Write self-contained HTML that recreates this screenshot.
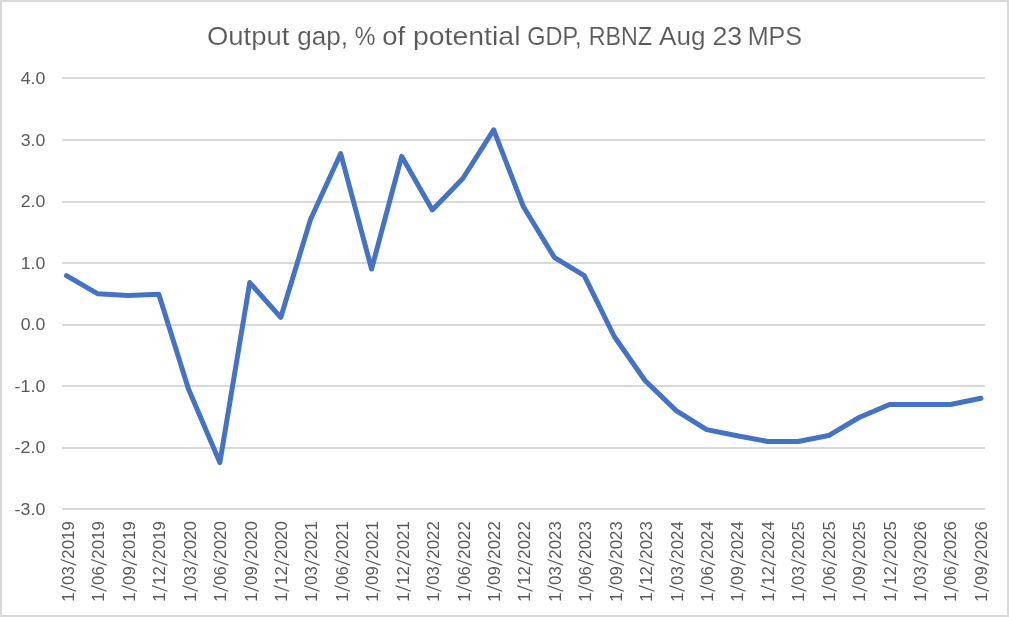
<!DOCTYPE html>
<html><head><meta charset="utf-8"><style>
html,body{margin:0;padding:0;background:#fff;}
body{width:1009px;height:617px;overflow:hidden;}
svg{display:block;font-family:"Liberation Sans",sans-serif;will-change:transform;}
</style></head><body>
<svg width="1009" height="617" viewBox="0 0 1009 617">
<rect x="1" y="1" width="1007" height="615" fill="#fff" stroke="#d9d9d9" stroke-width="2"/>
<rect x="62" y="77" width="923" height="2" fill="#d9d9d9"/><rect x="62" y="139" width="923" height="2" fill="#d9d9d9"/><rect x="62" y="201" width="923" height="2" fill="#d9d9d9"/><rect x="62" y="262" width="923" height="2" fill="#d9d9d9"/><rect x="62" y="324" width="923" height="2" fill="#d9d9d9"/><rect x="62" y="385" width="923" height="2" fill="#d9d9d9"/><rect x="62" y="447" width="923" height="2" fill="#d9d9d9"/><rect x="62" y="508" width="923" height="2" fill="#d9d9d9"/>
<g font-size="25.8" fill="#595959" stroke="#fff" stroke-width="0.15"><text x="206.97" y="45" textLength="82.45" lengthAdjust="spacingAndGlyphs">Output</text><text x="297.19" y="45" textLength="50.75" lengthAdjust="spacingAndGlyphs">gap,</text><text x="354.7" y="45" textLength="20.66" lengthAdjust="spacingAndGlyphs">%</text><text x="382.24" y="45" textLength="22.88" lengthAdjust="spacingAndGlyphs">of</text><text x="412.97" y="45" textLength="107.51" lengthAdjust="spacingAndGlyphs">potential</text><text x="527.16" y="45" textLength="54.39" lengthAdjust="spacingAndGlyphs">GDP,</text><text x="588.69" y="45" textLength="63.47" lengthAdjust="spacingAndGlyphs">RBNZ</text><text x="659.1" y="45" textLength="46.37" lengthAdjust="spacingAndGlyphs">Aug</text><text x="712.4" y="45" textLength="29.74" lengthAdjust="spacingAndGlyphs">23</text><text x="747.65" y="45" textLength="54.37" lengthAdjust="spacingAndGlyphs">MPS</text></g>
<g font-size="16.5" fill="#595959">
<text x="45.34" y="83.8" text-anchor="end" textLength="24.54" lengthAdjust="spacingAndGlyphs">4.0</text><text x="45.34" y="145.6" text-anchor="end" textLength="24.54" lengthAdjust="spacingAndGlyphs">3.0</text><text x="45.34" y="206.5" text-anchor="end" textLength="24.54" lengthAdjust="spacingAndGlyphs">2.0</text><text x="45.34" y="268.6" text-anchor="end" textLength="24.54" lengthAdjust="spacingAndGlyphs">1.0</text><text x="45.34" y="329.6" text-anchor="end" textLength="24.54" lengthAdjust="spacingAndGlyphs">0.0</text><text x="45.34" y="391.6" text-anchor="end" textLength="30.7" lengthAdjust="spacingAndGlyphs">-1.0</text><text x="45.34" y="452.5" text-anchor="end" textLength="30.7" lengthAdjust="spacingAndGlyphs">-2.0</text><text x="45.34" y="514.5" text-anchor="end" textLength="30.7" lengthAdjust="spacingAndGlyphs">-3.0</text>
</g>
<g font-size="16.8" fill="#595959" text-anchor="middle">
<g transform="translate(74.00,601.7) rotate(-90)"><text x="4.74">1</text><path d="M10.47 2.2L16.07 -13.3" stroke="#595959" stroke-width="1.2" fill="none"/><text x="21.41">0</text><text x="30.88">3</text><path d="M36.61 2.2L42.21 -13.3" stroke="#595959" stroke-width="1.2" fill="none"/><text x="47.55">2</text><text x="57.02">0</text><text x="66.48">1</text><text x="75.95">9</text></g><g transform="translate(104.43,601.7) rotate(-90)"><text x="4.74">1</text><path d="M10.47 2.2L16.07 -13.3" stroke="#595959" stroke-width="1.2" fill="none"/><text x="21.41">0</text><text x="30.88">6</text><path d="M36.61 2.2L42.21 -13.3" stroke="#595959" stroke-width="1.2" fill="none"/><text x="47.55">2</text><text x="57.02">0</text><text x="66.48">1</text><text x="75.95">9</text></g><g transform="translate(134.86,601.7) rotate(-90)"><text x="4.74">1</text><path d="M10.47 2.2L16.07 -13.3" stroke="#595959" stroke-width="1.2" fill="none"/><text x="21.41">0</text><text x="30.88">9</text><path d="M36.61 2.2L42.21 -13.3" stroke="#595959" stroke-width="1.2" fill="none"/><text x="47.55">2</text><text x="57.02">0</text><text x="66.48">1</text><text x="75.95">9</text></g><g transform="translate(165.29,601.7) rotate(-90)"><text x="4.74">1</text><path d="M10.47 2.2L16.07 -13.3" stroke="#595959" stroke-width="1.2" fill="none"/><text x="21.41">1</text><text x="30.88">2</text><path d="M36.61 2.2L42.21 -13.3" stroke="#595959" stroke-width="1.2" fill="none"/><text x="47.55">2</text><text x="57.02">0</text><text x="66.48">1</text><text x="75.95">9</text></g><g transform="translate(195.72,601.7) rotate(-90)"><text x="4.74">1</text><path d="M10.47 2.2L16.07 -13.3" stroke="#595959" stroke-width="1.2" fill="none"/><text x="21.41">0</text><text x="30.88">3</text><path d="M36.61 2.2L42.21 -13.3" stroke="#595959" stroke-width="1.2" fill="none"/><text x="47.55">2</text><text x="57.02">0</text><text x="66.48">2</text><text x="75.95">0</text></g><g transform="translate(226.15,601.7) rotate(-90)"><text x="4.74">1</text><path d="M10.47 2.2L16.07 -13.3" stroke="#595959" stroke-width="1.2" fill="none"/><text x="21.41">0</text><text x="30.88">6</text><path d="M36.61 2.2L42.21 -13.3" stroke="#595959" stroke-width="1.2" fill="none"/><text x="47.55">2</text><text x="57.02">0</text><text x="66.48">2</text><text x="75.95">0</text></g><g transform="translate(256.58,601.7) rotate(-90)"><text x="4.74">1</text><path d="M10.47 2.2L16.07 -13.3" stroke="#595959" stroke-width="1.2" fill="none"/><text x="21.41">0</text><text x="30.88">9</text><path d="M36.61 2.2L42.21 -13.3" stroke="#595959" stroke-width="1.2" fill="none"/><text x="47.55">2</text><text x="57.02">0</text><text x="66.48">2</text><text x="75.95">0</text></g><g transform="translate(287.01,601.7) rotate(-90)"><text x="4.74">1</text><path d="M10.47 2.2L16.07 -13.3" stroke="#595959" stroke-width="1.2" fill="none"/><text x="21.41">1</text><text x="30.88">2</text><path d="M36.61 2.2L42.21 -13.3" stroke="#595959" stroke-width="1.2" fill="none"/><text x="47.55">2</text><text x="57.02">0</text><text x="66.48">2</text><text x="75.95">0</text></g><g transform="translate(317.44,601.7) rotate(-90)"><text x="4.74">1</text><path d="M10.47 2.2L16.07 -13.3" stroke="#595959" stroke-width="1.2" fill="none"/><text x="21.41">0</text><text x="30.88">3</text><path d="M36.61 2.2L42.21 -13.3" stroke="#595959" stroke-width="1.2" fill="none"/><text x="47.55">2</text><text x="57.02">0</text><text x="66.48">2</text><text x="75.95">1</text></g><g transform="translate(347.87,601.7) rotate(-90)"><text x="4.74">1</text><path d="M10.47 2.2L16.07 -13.3" stroke="#595959" stroke-width="1.2" fill="none"/><text x="21.41">0</text><text x="30.88">6</text><path d="M36.61 2.2L42.21 -13.3" stroke="#595959" stroke-width="1.2" fill="none"/><text x="47.55">2</text><text x="57.02">0</text><text x="66.48">2</text><text x="75.95">1</text></g><g transform="translate(378.30,601.7) rotate(-90)"><text x="4.74">1</text><path d="M10.47 2.2L16.07 -13.3" stroke="#595959" stroke-width="1.2" fill="none"/><text x="21.41">0</text><text x="30.88">9</text><path d="M36.61 2.2L42.21 -13.3" stroke="#595959" stroke-width="1.2" fill="none"/><text x="47.55">2</text><text x="57.02">0</text><text x="66.48">2</text><text x="75.95">1</text></g><g transform="translate(408.73,601.7) rotate(-90)"><text x="4.74">1</text><path d="M10.47 2.2L16.07 -13.3" stroke="#595959" stroke-width="1.2" fill="none"/><text x="21.41">1</text><text x="30.88">2</text><path d="M36.61 2.2L42.21 -13.3" stroke="#595959" stroke-width="1.2" fill="none"/><text x="47.55">2</text><text x="57.02">0</text><text x="66.48">2</text><text x="75.95">1</text></g><g transform="translate(439.16,601.7) rotate(-90)"><text x="4.74">1</text><path d="M10.47 2.2L16.07 -13.3" stroke="#595959" stroke-width="1.2" fill="none"/><text x="21.41">0</text><text x="30.88">3</text><path d="M36.61 2.2L42.21 -13.3" stroke="#595959" stroke-width="1.2" fill="none"/><text x="47.55">2</text><text x="57.02">0</text><text x="66.48">2</text><text x="75.95">2</text></g><g transform="translate(469.59,601.7) rotate(-90)"><text x="4.74">1</text><path d="M10.47 2.2L16.07 -13.3" stroke="#595959" stroke-width="1.2" fill="none"/><text x="21.41">0</text><text x="30.88">6</text><path d="M36.61 2.2L42.21 -13.3" stroke="#595959" stroke-width="1.2" fill="none"/><text x="47.55">2</text><text x="57.02">0</text><text x="66.48">2</text><text x="75.95">2</text></g><g transform="translate(500.02,601.7) rotate(-90)"><text x="4.74">1</text><path d="M10.47 2.2L16.07 -13.3" stroke="#595959" stroke-width="1.2" fill="none"/><text x="21.41">0</text><text x="30.88">9</text><path d="M36.61 2.2L42.21 -13.3" stroke="#595959" stroke-width="1.2" fill="none"/><text x="47.55">2</text><text x="57.02">0</text><text x="66.48">2</text><text x="75.95">2</text></g><g transform="translate(530.45,601.7) rotate(-90)"><text x="4.74">1</text><path d="M10.47 2.2L16.07 -13.3" stroke="#595959" stroke-width="1.2" fill="none"/><text x="21.41">1</text><text x="30.88">2</text><path d="M36.61 2.2L42.21 -13.3" stroke="#595959" stroke-width="1.2" fill="none"/><text x="47.55">2</text><text x="57.02">0</text><text x="66.48">2</text><text x="75.95">2</text></g><g transform="translate(560.88,601.7) rotate(-90)"><text x="4.74">1</text><path d="M10.47 2.2L16.07 -13.3" stroke="#595959" stroke-width="1.2" fill="none"/><text x="21.41">0</text><text x="30.88">3</text><path d="M36.61 2.2L42.21 -13.3" stroke="#595959" stroke-width="1.2" fill="none"/><text x="47.55">2</text><text x="57.02">0</text><text x="66.48">2</text><text x="75.95">3</text></g><g transform="translate(591.31,601.7) rotate(-90)"><text x="4.74">1</text><path d="M10.47 2.2L16.07 -13.3" stroke="#595959" stroke-width="1.2" fill="none"/><text x="21.41">0</text><text x="30.88">6</text><path d="M36.61 2.2L42.21 -13.3" stroke="#595959" stroke-width="1.2" fill="none"/><text x="47.55">2</text><text x="57.02">0</text><text x="66.48">2</text><text x="75.95">3</text></g><g transform="translate(621.74,601.7) rotate(-90)"><text x="4.74">1</text><path d="M10.47 2.2L16.07 -13.3" stroke="#595959" stroke-width="1.2" fill="none"/><text x="21.41">0</text><text x="30.88">9</text><path d="M36.61 2.2L42.21 -13.3" stroke="#595959" stroke-width="1.2" fill="none"/><text x="47.55">2</text><text x="57.02">0</text><text x="66.48">2</text><text x="75.95">3</text></g><g transform="translate(652.17,601.7) rotate(-90)"><text x="4.74">1</text><path d="M10.47 2.2L16.07 -13.3" stroke="#595959" stroke-width="1.2" fill="none"/><text x="21.41">1</text><text x="30.88">2</text><path d="M36.61 2.2L42.21 -13.3" stroke="#595959" stroke-width="1.2" fill="none"/><text x="47.55">2</text><text x="57.02">0</text><text x="66.48">2</text><text x="75.95">3</text></g><g transform="translate(682.60,601.7) rotate(-90)"><text x="4.74">1</text><path d="M10.47 2.2L16.07 -13.3" stroke="#595959" stroke-width="1.2" fill="none"/><text x="21.41">0</text><text x="30.88">3</text><path d="M36.61 2.2L42.21 -13.3" stroke="#595959" stroke-width="1.2" fill="none"/><text x="47.55">2</text><text x="57.02">0</text><text x="66.48">2</text><text x="75.95">4</text></g><g transform="translate(713.03,601.7) rotate(-90)"><text x="4.74">1</text><path d="M10.47 2.2L16.07 -13.3" stroke="#595959" stroke-width="1.2" fill="none"/><text x="21.41">0</text><text x="30.88">6</text><path d="M36.61 2.2L42.21 -13.3" stroke="#595959" stroke-width="1.2" fill="none"/><text x="47.55">2</text><text x="57.02">0</text><text x="66.48">2</text><text x="75.95">4</text></g><g transform="translate(743.46,601.7) rotate(-90)"><text x="4.74">1</text><path d="M10.47 2.2L16.07 -13.3" stroke="#595959" stroke-width="1.2" fill="none"/><text x="21.41">0</text><text x="30.88">9</text><path d="M36.61 2.2L42.21 -13.3" stroke="#595959" stroke-width="1.2" fill="none"/><text x="47.55">2</text><text x="57.02">0</text><text x="66.48">2</text><text x="75.95">4</text></g><g transform="translate(773.89,601.7) rotate(-90)"><text x="4.74">1</text><path d="M10.47 2.2L16.07 -13.3" stroke="#595959" stroke-width="1.2" fill="none"/><text x="21.41">1</text><text x="30.88">2</text><path d="M36.61 2.2L42.21 -13.3" stroke="#595959" stroke-width="1.2" fill="none"/><text x="47.55">2</text><text x="57.02">0</text><text x="66.48">2</text><text x="75.95">4</text></g><g transform="translate(804.32,601.7) rotate(-90)"><text x="4.74">1</text><path d="M10.47 2.2L16.07 -13.3" stroke="#595959" stroke-width="1.2" fill="none"/><text x="21.41">0</text><text x="30.88">3</text><path d="M36.61 2.2L42.21 -13.3" stroke="#595959" stroke-width="1.2" fill="none"/><text x="47.55">2</text><text x="57.02">0</text><text x="66.48">2</text><text x="75.95">5</text></g><g transform="translate(834.75,601.7) rotate(-90)"><text x="4.74">1</text><path d="M10.47 2.2L16.07 -13.3" stroke="#595959" stroke-width="1.2" fill="none"/><text x="21.41">0</text><text x="30.88">6</text><path d="M36.61 2.2L42.21 -13.3" stroke="#595959" stroke-width="1.2" fill="none"/><text x="47.55">2</text><text x="57.02">0</text><text x="66.48">2</text><text x="75.95">5</text></g><g transform="translate(865.18,601.7) rotate(-90)"><text x="4.74">1</text><path d="M10.47 2.2L16.07 -13.3" stroke="#595959" stroke-width="1.2" fill="none"/><text x="21.41">0</text><text x="30.88">9</text><path d="M36.61 2.2L42.21 -13.3" stroke="#595959" stroke-width="1.2" fill="none"/><text x="47.55">2</text><text x="57.02">0</text><text x="66.48">2</text><text x="75.95">5</text></g><g transform="translate(895.61,601.7) rotate(-90)"><text x="4.74">1</text><path d="M10.47 2.2L16.07 -13.3" stroke="#595959" stroke-width="1.2" fill="none"/><text x="21.41">1</text><text x="30.88">2</text><path d="M36.61 2.2L42.21 -13.3" stroke="#595959" stroke-width="1.2" fill="none"/><text x="47.55">2</text><text x="57.02">0</text><text x="66.48">2</text><text x="75.95">5</text></g><g transform="translate(926.04,601.7) rotate(-90)"><text x="4.74">1</text><path d="M10.47 2.2L16.07 -13.3" stroke="#595959" stroke-width="1.2" fill="none"/><text x="21.41">0</text><text x="30.88">3</text><path d="M36.61 2.2L42.21 -13.3" stroke="#595959" stroke-width="1.2" fill="none"/><text x="47.55">2</text><text x="57.02">0</text><text x="66.48">2</text><text x="75.95">6</text></g><g transform="translate(956.47,601.7) rotate(-90)"><text x="4.74">1</text><path d="M10.47 2.2L16.07 -13.3" stroke="#595959" stroke-width="1.2" fill="none"/><text x="21.41">0</text><text x="30.88">6</text><path d="M36.61 2.2L42.21 -13.3" stroke="#595959" stroke-width="1.2" fill="none"/><text x="47.55">2</text><text x="57.02">0</text><text x="66.48">2</text><text x="75.95">6</text></g><g transform="translate(986.90,601.7) rotate(-90)"><text x="4.74">1</text><path d="M10.47 2.2L16.07 -13.3" stroke="#595959" stroke-width="1.2" fill="none"/><text x="21.41">0</text><text x="30.88">9</text><path d="M36.61 2.2L42.21 -13.3" stroke="#595959" stroke-width="1.2" fill="none"/><text x="47.55">2</text><text x="57.02">0</text><text x="66.48">2</text><text x="75.95">6</text></g>
</g>
<polyline points="66.45,275.68 97.43,293.65 127.91,295.50 158.80,294.27 188.48,389.09 219.86,462.56 249.74,282.57 280.72,317.45 310.40,219.76 340.69,153.57 371.57,269.02 401.65,156.35 432.33,209.91 462.81,178.50 493.69,129.85 523.17,206.22 554.26,257.31 584.24,275.58 614.42,336.75 645.00,380.45 676.18,410.64 706.66,429.61 737.15,435.76 767.63,441.42 798.11,441.42 828.59,435.56 859.07,417.49 889.56,404.48 920.04,404.48 950.52,404.48 981.00,398.32" fill="none" stroke="#4472c4" stroke-width="5" stroke-linejoin="round" stroke-linecap="round"/>
</svg>
</body></html>
